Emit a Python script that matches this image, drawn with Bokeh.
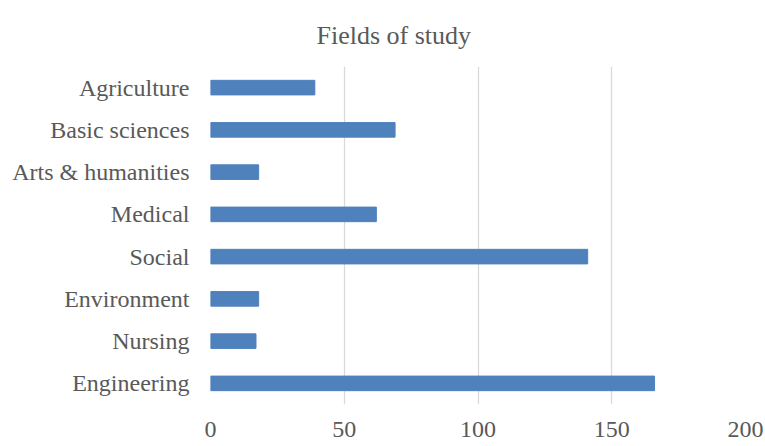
from bokeh.plotting import figure
from bokeh.models import ColumnDataSource, FactorRange, Range1d, Title, FixedTicker
from bokeh.embed import file_html
from bokeh.resources import INLINE

# Fields of study, listed top to bottom
fields = ["Agriculture", "Basic sciences", "Arts & humanities", "Medical",
          "Social", "Environment", "Nursing", "Engineering"]
counts = [39, 69, 18, 62, 141, 18, 17, 166]
x_ticks = [0, 50, 100, 150, 200]

FONT = "Times New Roman"
GREY = "#595959"

source = ColumnDataSource(data=dict(field=fields, count=counts))

p = figure(
    width=765, height=446,
    y_range=FactorRange(factors=list(reversed(fields)), range_padding=0),
    x_range=Range1d(0, 200),
    output_backend="svg", toolbar_location=None,
    min_border_left=210, min_border_right=20,
    min_border_top=66, min_border_bottom=42,
)
p.title = None
p.add_layout(Title(text="Fields of study", align="left", offset=106,
                   standoff=33,
                   text_font=FONT, text_font_size="26px",
                   text_font_style="normal", text_color=GREY), "above")

p.hbar(y="field", right="count", left=0, height=0.345, source=source,
       fill_color="#4f81bd", line_color="#4f81bd")

p.outline_line_color = None
p.background_fill_color = "white"
p.border_fill_color = "white"

p.xgrid.ticker = FixedTicker(ticks=x_ticks)
p.xgrid.grid_line_color = "#d9d9d9"
p.xgrid.grid_line_width = 1.3
p.ygrid.grid_line_color = None

p.xaxis.ticker = FixedTicker(ticks=x_ticks)
for ax in (p.xaxis[0], p.yaxis[0]):
    ax.axis_line_color = None
    ax.major_tick_line_color = None
    ax.minor_tick_line_color = None
    ax.major_tick_in = 0
    ax.major_tick_out = 0
    ax.major_label_text_font = FONT
    ax.major_label_text_font_size = "24px"
    ax.major_label_text_color = GREY
p.xaxis.major_label_standoff = 17
p.yaxis.major_label_standoff = 21

open("out.html", "w").write(file_html(p, INLINE))
